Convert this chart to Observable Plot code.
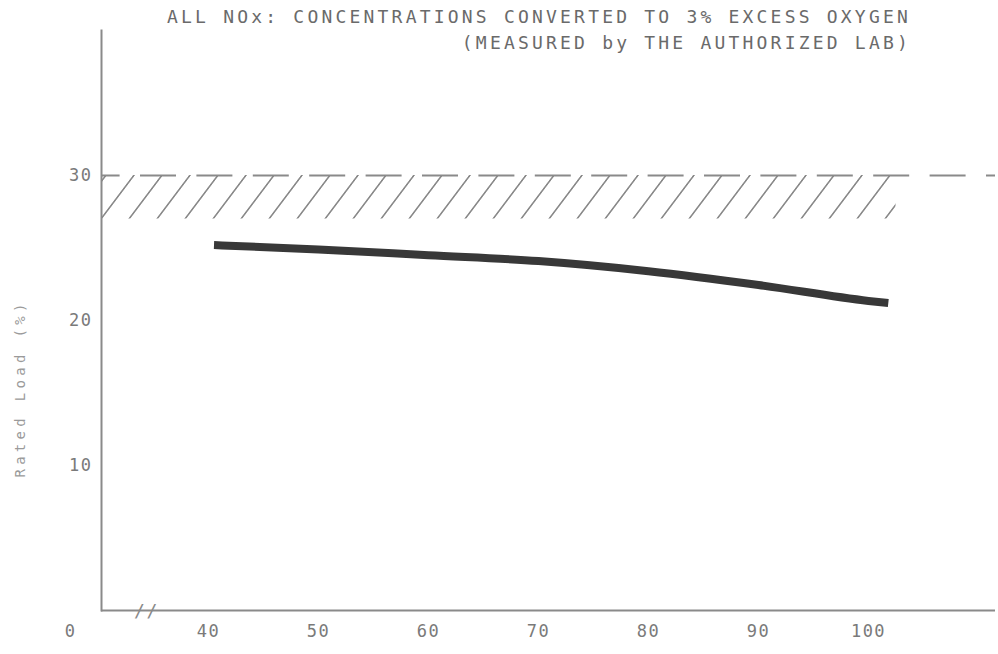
<!DOCTYPE html>
<html><head><meta charset="utf-8">
<script src="https://cdn.jsdelivr.net/npm/d3@7"></script>
<script src="https://cdn.jsdelivr.net/npm/@observablehq/plot@0.6"></script>
<style>
body{margin:0;background:#fff;}
#wrap{position:relative;width:998px;height:654px;}
#title{position:absolute;top:4px;right:87px;text-align:right;font-family:"DejaVu Sans Mono",monospace;font-size:18px;letter-spacing:3.2px;line-height:26px;color:#6a6a6a;white-space:pre;}
#wrap svg text{letter-spacing:1.5px;}
</style></head><body>
<div id="wrap"><div id="title"></div></div>
<script>
const titleLines = ["ALL NOx: CONCENTRATIONS CONVERTED TO 3% EXCESS OXYGEN", "(MEASURED by THE AUTHORIZED LAB)"];
const yLabel = "Rated Load (%)";
const loadX = [40.5, 50, 60, 70, 80, 90, 100, 101.8];
const loadY = [25.2, 24.9, 24.5, 24.1, 23.4, 22.45, 21.35, 21.2];
const xTicks = [0, 40, 50, 60, 70, 80, 90, 100];
const yTicks = [10, 20, 30];
const limitBandX = [0, 102.5];
const limitBandY = [27, 30];
const xBreakAt = [22];

document.getElementById("title").textContent = titleLines.join("\n");

const load = loadX.map((x, i) => ({x, y: loadY[i]}));
const band = [{x1: limitBandX[0], x2: limitBandX[1], y1: limitBandY[0], y2: limitBandY[1]}];
const gray = "#8a8a8a";

// broken x axis: the 0–40 stretch is compressed
const breakEnd = 40, squeeze = 0.3136;
const xBreak = d => d >= breakEnd ? d : breakEnd - (breakEnd - d) * squeeze;
const xUnbreak = t => t >= breakEnd ? t : breakEnd - (breakEnd - t) / squeeze;

const chart = Plot.plot({
  width: 998,
  height: 654,
  marginTop: 30,
  marginBottom: 44,
  marginLeft: 101,
  marginRight: 3,
  style: {fontFamily: "'DejaVu Sans Mono', monospace", fontSize: "17px", color: "#7a7a7a", background: "#fff"},
  x: {transform: xBreak, domain: [27.4545, 111.545], range: [70, 995]},
  y: {domain: [0, 40]},
  marks: [
    Plot.rect(band, {x1: "x1", x2: "x2", y1: "y1", y2: "y2", fill: "url(#hatch)", clip: true}),
    Plot.ruleY([limitBandY[1]], {stroke: gray, strokeWidth: 2, strokeDasharray: "36,20.4", strokeDashoffset: 17.4}),
    Plot.frame({anchor: "left", stroke: gray, strokeWidth: 2}),
    Plot.ruleY([0], {stroke: gray, strokeWidth: 2}),
    Plot.text(xBreakAt, {x: d => d, y: 0, text: () => "//", fontSize: 18, fill: gray, dy: 1}),
    Plot.axisX({ticks: xTicks.map(xBreak), tickSize: 0, tickPadding: 14, tickFormat: t => String(Math.round(xUnbreak(t))), label: null}),
    Plot.axisY({ticks: yTicks, tickSize: 0, tickPadding: 9, label: yLabel, labelAnchor: "center", labelOffset: 86, labelArrow: "none"}),
    Plot.line(load, {x: "x", y: "y", stroke: "#383838", strokeWidth: 8, curve: "monotone-x", strokeLinecap: "butt"})
  ]
});

// hatch pattern definition
const ns = "http://www.w3.org/2000/svg";
const defs = document.createElementNS(ns, "defs");
const pat = document.createElementNS(ns, "pattern");
pat.setAttribute("id", "hatch");
pat.setAttribute("patternUnits", "userSpaceOnUse");
pat.setAttribute("width", "28");
pat.setAttribute("height", "600");
pat.setAttribute("patternTransform", "skewX(-37)");
const ln = document.createElementNS(ns, "line");
ln.setAttribute("x1", "14"); ln.setAttribute("x2", "14");
ln.setAttribute("y1", "0"); ln.setAttribute("y2", "600");
ln.setAttribute("stroke", gray); ln.setAttribute("stroke-width", "2");
pat.appendChild(ln); defs.appendChild(pat);
chart.insertBefore(defs, chart.firstChild);

// y label styling
d3.select(chart).selectAll("[aria-label='y-axis label'] text")
  .style("font-size", "14px").style("letter-spacing", "4.3px").attr("fill", "#9a9a9a").attr("dx", "-68");

document.getElementById("wrap").insertBefore(chart, document.getElementById("title"));
</script>
</body></html>
